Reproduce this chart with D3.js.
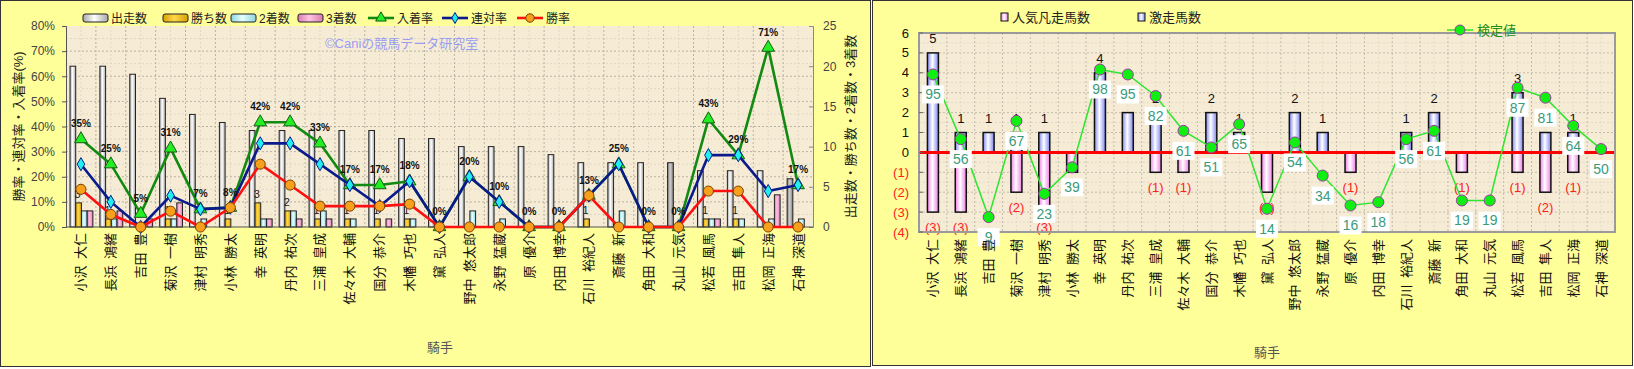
<!DOCTYPE html>
<html>
<head>
<meta charset="utf-8">
<script src="https://cdn.jsdelivr.net/npm/d3@7"></script>
<style>
  body { margin: 0; background: #fff; }
  svg text { font-family: 'Liberation Sans', 'Noto Sans CJK JP', sans-serif; }
</style>
</head>
<body>
<svg id="chart" width="1634" height="369"></svg>
<script>
// ---- data ----
const jockeys = ['小沢 大仁', '長浜 鴻緒', '吉田 豊', '菊沢 一樹', '津村 明秀', '小林 勝太', '幸 英明', '丹内 祐次',
  '三浦 皇成', '佐々木 大輔', '国分 恭介', '木幡 巧也', '黛 弘人', '野中 悠太郎', '永野 猛蔵', '原 優介',
  '内田 博幸', '石川 裕紀人', '斎藤 新', '角田 大和', '丸山 元気', '松若 風馬', '吉田 隼人', '松岡 正海', '石神 深道'];

const starts  = [20, 20, 19, 16, 14, 13, 12, 12, 12, 12, 12, 11, 11, 10, 10, 10, 9, 8, 8, 8, 8, 7, 7, 7, 6];
const wins    = [3, 1, 0, 1, 0, 1, 3, 2, 1, 1, 1, 1, 0, 0, 0, 0, 0, 1, 0, 0, 0, 1, 1, 0, 0];
const seconds = [2, 1, 0, 1, 1, 0, 1, 2, 2, 1, 0, 1, 0, 2, 1, 0, 0, 0, 2, 0, 0, 1, 1, 1, 1];
const thirds  = [2, 2, 1, 3, 0, 0, 1, 1, 1, 0, 1, 0, 0, 0, 0, 0, 0, 0, 0, 0, 0, 1, 0, 4, 0];

const winRate   = [15, 5, 0, 6.3, 0, 7.7, 25, 16.7, 8.3, 8.3, 8.3, 9.1, 0, 0, 0, 0, 0, 12.5, 0, 0, 0, 14.3, 14.3, 0, 0];
const placeRate = [25, 10, 0, 12.5, 7.1, 7.7, 33.3, 33.3, 25, 16.7, 8.3, 18.2, 0, 20, 10, 0, 0, 12.5, 25, 0, 0, 28.6, 28.6, 14.3, 16.7];
const showRate  = [35, 25, 5.3, 31.3, 7.1, 7.7, 41.7, 41.7, 33.3, 16.7, 16.7, 18.2, 0, 20, 10, 0, 0, 12.5, 25, 0, 0, 42.9, 28.6, 71.4, 16.7];

const pctTicks   = [0, 10, 20, 30, 40, 50, 60, 70, 80];
const countTicks = [0, 5, 10, 15, 20, 25];

const surge     = [5, 1, 1, 1, 1, 0, 4, 2, 2, 0, 2, 1, 0, 2, 1, 0, 0, 1, 2, 0, 0, 3, 1, 1, 0];
const flop      = [3, 3, 0, 2, 3, 1, 0, 0, 1, 1, 0, 0, 2, 0, 0, 1, 0, 0, 0, 1, 0, 1, 2, 1, 0];
const testValue = [95, 56, 9, 67, 23, 39, 98, 95, 82, 61, 51, 65, 14, 54, 34, 16, 18, 56, 61, 19, 19, 87, 81, 64, 50];
const rightTicks = [-4, -3, -2, -1, 0, 1, 2, 3, 4, 5, 6];

// darker shading used on two of the start bars
const shadedStarts = ['丸山 元気', '石神 深道'];

// keep the jockey index with each value so filtering keeps positions right
const withIndex = arr => arr.map((v, i) => ({ v, i }));

const svg = d3.select('#chart');
const defs = svg.append('defs');

function gradient(id, edge, mid) {
  const g = defs.append('linearGradient').attr('id', id)
    .attr('x1', 0).attr('x2', 1).attr('y1', 0).attr('y2', 0);
  g.append('stop').attr('offset', '0%').attr('stop-color', edge);
  g.append('stop').attr('offset', '45%').attr('stop-color', mid);
  g.append('stop').attr('offset', '100%').attr('stop-color', edge);
}
gradient('gStart', '#a8a8a8', '#ffffff');
gradient('gStartDark', '#808080', '#d0d0d0');
gradient('gWin', '#d8a000', '#ffd84a');
gradient('gSecond', '#8fd4de', '#e4ffff');
gradient('gThird', '#d77ab0', '#ffc4e2');
gradient('gSurge', '#7f86f0', '#ffffff');
gradient('gFlop', '#f07ee6', '#ffffff');

// panels
svg.append('rect').attr('x', 0.5).attr('y', 0.5).attr('width', 870).attr('height', 366)
  .attr('fill', '#ffff99').attr('stroke', '#333');
svg.append('rect').attr('x', 872.5).attr('y', 0.5).attr('width', 760).attr('height', 365)
  .attr('fill', '#ffff99').attr('stroke', '#333');

// ================= LEFT CHART =================
const L = { left: 66, right: 813, top: 26, bottom: 227 };
const x1 = d3.scaleBand().domain(jockeys).range([L.left, L.right]);
const bw = x1.bandwidth();
const sub = d3.scaleBand().domain(['starts', 'wins', 'seconds', 'thirds']).range([4, bw - 3]);
const yPct = d3.scaleLinear().domain([0, 80]).range([L.bottom, L.top]);
const yCnt = d3.scaleLinear().domain([0, 25]).range([L.bottom, L.top]);
const cx1 = i => x1(jockeys[i]) + bw / 2;

const left = svg.append('g');

left.append('rect')
  .attr('x', L.left).attr('y', L.top)
  .attr('width', L.right - L.left).attr('height', L.bottom - L.top)
  .attr('fill', '#f6ecd6');

// grid
left.append('g').selectAll('line').data(d3.range(5, 80, 5)).join('line')
  .attr('x1', L.left).attr('x2', L.right)
  .attr('y1', d => yPct(d)).attr('y2', d => yPct(d))
  .attr('stroke', d => d % 10 ? '#e0d6c4' : '#b9b1a2')
  .attr('stroke-dasharray', '2,2');
left.append('g').selectAll('line').data(jockeys).join('line')
  .attr('x1', d => x1(d) + bw / 2).attr('x2', d => x1(d) + bw / 2)
  .attr('y1', L.top).attr('y2', L.bottom)
  .attr('stroke', '#e0d6c4').attr('stroke-dasharray', '2,2');
left.append('g').selectAll('line').data(jockeys.slice(1)).join('line')
  .attr('x1', d => x1(d)).attr('x2', d => x1(d))
  .attr('y1', L.top).attr('y2', L.bottom)
  .attr('stroke', '#b9b1a2').attr('stroke-dasharray', '2,2');

// watermark
left.append('text')
  .text('©Caniの競馬データ研究室')
  .attr('x', 325).attr('y', 48)
  .attr('fill', '#9a9cf2')
  .style('font-size', '13px');

// bars
const barSeries = [
  { key: 'starts', values: starts, fill: d => shadedStarts.includes(jockeys[d.i]) ? 'url(#gStartDark)' : 'url(#gStart)' },
  { key: 'wins', values: wins, fill: () => 'url(#gWin)' },
  { key: 'seconds', values: seconds, fill: () => 'url(#gSecond)' },
  { key: 'thirds', values: thirds, fill: () => 'url(#gThird)' }
];
barSeries.forEach(s => {
  left.append('g').selectAll('rect').data(withIndex(s.values).filter(d => d.v > 0)).join('rect')
    .attr('x', d => x1(jockeys[d.i]) + sub(s.key))
    .attr('y', d => yCnt(d.v))
    .attr('width', sub.bandwidth())
    .attr('height', d => yCnt(0) - yCnt(d.v))
    .attr('fill', s.fill)
    .attr('stroke', '#222')
    .attr('stroke-width', 1);
});

// win count labels
left.append('g').selectAll('text').data(withIndex(wins).filter(d => d.v > 0)).join('text')
  .text(d => d.v)
  .attr('x', d => x1(jockeys[d.i]) + sub('wins') + sub.bandwidth() / 2 - 1)
  .attr('y', d => yCnt(d.v) - 5)
  .attr('text-anchor', 'middle')
  .attr('fill', '#222')
  .style('font-size', '11px');

// axes
left.append('g')
  .attr('transform', `translate(${L.left},0)`)
  .call(d3.axisLeft(yPct).tickValues(pctTicks).tickFormat(d => d + '%').tickSize(4).tickPadding(7))
  .call(g => g.selectAll('text').attr('fill', '#444').style('font-size', '12px'))
  .call(g => g.selectAll('line, path').attr('stroke', '#555'));

left.append('g')
  .attr('transform', `translate(${L.right},0)`)
  .call(d3.axisRight(yCnt).tickValues(countTicks).tickSize(-4).tickPadding(10))
  .call(g => g.selectAll('text').attr('fill', '#444').style('font-size', '12px'))
  .call(g => g.selectAll('line, path').attr('stroke', '#888'));

left.append('line')
  .attr('x1', L.left).attr('x2', L.right).attr('y1', L.bottom).attr('y2', L.bottom)
  .attr('stroke', '#555');

// rate lines
const lineSeries = [
  { values: showRate, color: '#128a12', symbol: d3.symbolTriangle, size: 70, fill: '#22ee22', stroke: '#1a5a1a' },
  { values: placeRate, color: '#0a1a8c', symbol: d3.symbolDiamond, size: 50, fill: '#22eeee', stroke: '#0a1a8c' },
  { values: winRate, color: '#ff1010', symbol: d3.symbolCircle, size: 80, fill: '#f7a01c', stroke: '#7a4000' }
];
lineSeries.forEach(s => {
  const lineGen = d3.line().x((d, i) => cx1(i)).y(d => yPct(d));
  left.append('path')
    .attr('d', lineGen(s.values))
    .attr('fill', 'none')
    .attr('stroke', s.color)
    .attr('stroke-width', 2.6)
    .attr('stroke-linejoin', 'round');
  left.append('g').selectAll('path').data(s.values).join('path')
    .attr('d', d3.symbol().type(s.symbol).size(s.size))
    .attr('transform', (d, i) => `translate(${cx1(i)},${yPct(d)})`)
    .attr('fill', s.fill)
    .attr('stroke', s.stroke)
    .attr('stroke-width', 1);
});

// show rate labels
left.append('g').selectAll('text').data(showRate).join('text')
  .text(d => d3.format('.0f')(d) + '%')
  .attr('x', (d, i) => cx1(i))
  .attr('y', d => yPct(d) - 12)
  .attr('text-anchor', 'middle')
  .attr('fill', '#111')
  .style('font-size', '10px')
  .style('font-weight', 'bold');

// category labels
left.append('g').selectAll('text').data(jockeys).join('text')
  .text(d => d.replace(' ', '\u2002'))
  .attr('transform', d => `translate(${x1(d) + bw / 2},233) rotate(-90)`)
  .attr('text-anchor', 'end')
  .attr('dominant-baseline', 'central')
  .attr('fill', '#111')
  .style('font-size', '13px');

// axis titles
left.append('text')
  .text('勝率・連対率・入着率(%)')
  .attr('transform', `translate(18,${(L.top + L.bottom) / 2}) rotate(-90)`)
  .attr('text-anchor', 'middle')
  .attr('dominant-baseline', 'central')
  .attr('fill', '#222')
  .style('font-size', '13px');

left.append('text')
  .text('出走数・勝ち数・2着数・3着数')
  .attr('transform', `translate(850,${(L.top + L.bottom) / 2}) rotate(-90)`)
  .attr('text-anchor', 'middle')
  .attr('dominant-baseline', 'central')
  .attr('fill', '#222')
  .style('font-size', '13px');

left.append('text')
  .text('騎手')
  .attr('x', 440).attr('y', 352)
  .attr('text-anchor', 'middle')
  .attr('fill', '#555')
  .style('font-size', '13px');

// legend
const legendBars = [
  { label: '出走数', fill: 'url(#gStart)', x: 83 },
  { label: '勝ち数', fill: 'url(#gWin)', x: 163 },
  { label: '2着数', fill: 'url(#gSecond)', x: 231 },
  { label: '3着数', fill: 'url(#gThird)', x: 298 }
];
const legBar = left.append('g');
legendBars.forEach(d => {
  legBar.append('rect')
    .attr('x', d.x).attr('y', 14).attr('width', 25).attr('height', 8).attr('rx', 2)
    .attr('fill', d.fill).attr('stroke', '#222');
  legBar.append('text')
    .text(d.label)
    .attr('x', d.x + 28).attr('y', 23)
    .attr('fill', '#222')
    .style('font-size', '12px');
});
const legendLines = [
  { label: '入着率', s: lineSeries[0], x: 368 },
  { label: '連対率', s: lineSeries[1], x: 442 },
  { label: '勝率', s: lineSeries[2], x: 517 }
];
legendLines.forEach(d => {
  legBar.append('line')
    .attr('x1', d.x).attr('x2', d.x + 26).attr('y1', 18).attr('y2', 18)
    .attr('stroke', d.s.color).attr('stroke-width', 2.6);
  legBar.append('path')
    .attr('d', d3.symbol().type(d.s.symbol).size(d.s.size * 0.7))
    .attr('transform', `translate(${d.x + 13},18)`)
    .attr('fill', d.s.fill).attr('stroke', d.s.stroke);
  legBar.append('text')
    .text(d.label)
    .attr('x', d.x + 29).attr('y', 23)
    .attr('fill', '#222')
    .style('font-size', '12px');
});

// ================= RIGHT CHART =================
const R = { left: 919, right: 1615, top: 33, bottom: 232 };
const x2 = d3.scaleBand().domain(jockeys).range([R.left, R.right]);
const bw2 = x2.bandwidth();
const yR = d3.scaleLinear().domain([-4, 6]).range([R.bottom, R.top]);
const yTest = d3.scaleLinear().domain([0, 120]).range([R.bottom, R.top]);
const cx2 = i => x2(jockeys[i]) + bw2 / 2;

const right = svg.append('g');

right.append('rect')
  .attr('x', R.left).attr('y', R.top)
  .attr('width', R.right - R.left).attr('height', R.bottom - R.top)
  .attr('fill', '#f6ecd6');

right.append('g').selectAll('line').data(d3.range(-3.5, 6, 0.5)).join('line')
  .attr('x1', R.left).attr('x2', R.right)
  .attr('y1', d => yR(d)).attr('y2', d => yR(d))
  .attr('stroke', d => d % 1 ? '#e2d9c8' : '#c4bcad')
  .attr('stroke-dasharray', '2,2');
right.append('g').selectAll('line').data(jockeys).join('line')
  .attr('x1', d => x2(d) + bw2 / 2).attr('x2', d => x2(d) + bw2 / 2)
  .attr('y1', R.top).attr('y2', R.bottom)
  .attr('stroke', '#e2d9c8').attr('stroke-dasharray', '2,2');
right.append('g').selectAll('line').data(jockeys.slice(1)).join('line')
  .attr('x1', d => x2(d)).attr('x2', d => x2(d))
  .attr('y1', R.top).attr('y2', R.bottom)
  .attr('stroke', '#c4bcad').attr('stroke-dasharray', '2,2');

// bars
const barW = 11;
right.append('g').selectAll('rect').data(withIndex(surge).filter(d => d.v > 0)).join('rect')
  .attr('x', d => cx2(d.i) - barW / 2)
  .attr('y', d => yR(d.v))
  .attr('width', barW)
  .attr('height', d => yR(0) - yR(d.v))
  .attr('fill', 'url(#gSurge)')
  .attr('stroke', '#111').attr('stroke-width', 1.5);
right.append('g').selectAll('rect').data(withIndex(flop).filter(d => d.v > 0)).join('rect')
  .attr('x', d => cx2(d.i) - barW / 2)
  .attr('y', yR(0))
  .attr('width', barW)
  .attr('height', d => yR(-d.v) - yR(0))
  .attr('fill', 'url(#gFlop)')
  .attr('stroke', '#111').attr('stroke-width', 1.5);

// bar labels
right.append('g').selectAll('text').data(withIndex(surge).filter(d => d.v > 0)).join('text')
  .text(d => d.v)
  .attr('x', d => cx2(d.i))
  .attr('y', d => yR(d.v) - 14)
  .attr('text-anchor', 'middle').attr('dominant-baseline', 'central')
  .attr('fill', '#111')
  .style('font-size', '13px');
right.append('g').selectAll('text').data(withIndex(flop).filter(d => d.v > 0)).join('text')
  .text(d => `(${d.v})`)
  .attr('x', d => cx2(d.i))
  .attr('y', d => yR(-d.v) + 15)
  .attr('text-anchor', 'middle').attr('dominant-baseline', 'central')
  .attr('fill', '#ff2020')
  .style('font-size', '13px');

// zero line
right.append('line')
  .attr('x1', R.left).attr('x2', R.right)
  .attr('y1', yR(0)).attr('y2', yR(0))
  .attr('stroke', '#ff0000').attr('stroke-width', 3);

// frame
right.append('rect')
  .attr('x', R.left).attr('y', R.top)
  .attr('width', R.right - R.left).attr('height', R.bottom - R.top)
  .attr('fill', 'none').attr('stroke', '#9a9a9a').attr('stroke-width', 2);

// y axis
right.append('g').selectAll('line').data(rightTicks).join('line')
  .attr('x1', R.left).attr('x2', R.left + 4)
  .attr('y1', d => yR(d)).attr('y2', d => yR(d))
  .attr('stroke', '#666');
right.append('g').selectAll('text').data(rightTicks).join('text')
  .text(d => d < 0 ? `(${-d})` : d)
  .attr('x', 909)
  .attr('y', d => yR(d))
  .attr('text-anchor', 'end').attr('dominant-baseline', 'central')
  .attr('fill', d => d < 0 ? '#ff2020' : '#111')
  .style('font-size', '13px');

// test value line
const testLine = d3.line().x((d, i) => cx2(i)).y(d => yTest(d));
right.append('path')
  .attr('d', testLine(testValue))
  .attr('fill', 'none')
  .attr('stroke', '#2ee62e')
  .attr('stroke-width', 1.5);
right.append('g').selectAll('circle').data(testValue).join('circle')
  .attr('cx', (d, i) => cx2(i))
  .attr('cy', d => yTest(d))
  .attr('r', 5.5)
  .attr('fill', '#11ee11')
  .attr('stroke', '#9b3aa0').attr('stroke-width', 1);

const testLabels = right.append('g').selectAll('g').data(testValue).join('g')
  .attr('transform', (d, i) => `translate(${cx2(i)},${yTest(d) + 20})`);
testLabels.append('rect')
  .attr('x', -11).attr('y', -9).attr('width', 22).attr('height', 18)
  .attr('fill', '#fff');
testLabels.append('text')
  .text(d => d)
  .attr('text-anchor', 'middle').attr('dominant-baseline', 'central')
  .attr('fill', '#3a9a7a')
  .style('font-size', '14px');

// category labels
right.append('g').selectAll('text').data(jockeys).join('text')
  .text(d => d.replace(' ', '\u2002'))
  .attr('transform', d => `translate(${x2(d) + bw2 / 2},239) rotate(-90)`)
  .attr('text-anchor', 'end')
  .attr('dominant-baseline', 'central')
  .attr('fill', '#111')
  .style('font-size', '13px');

right.append('text')
  .text('騎手')
  .attr('x', 1267).attr('y', 357)
  .attr('text-anchor', 'middle')
  .attr('fill', '#555')
  .style('font-size', '13px');

// legend
[{ label: '人気凡走馬数', fill: 'url(#gFlop)', x: 1001 }, { label: '激走馬数', fill: 'url(#gSurge)', x: 1138 }]
  .forEach(d => {
    right.append('rect')
      .attr('x', d.x).attr('y', 13).attr('width', 7).attr('height', 8)
      .attr('fill', d.fill).attr('stroke', '#111');
    right.append('text')
      .text(d.label)
      .attr('x', d.x + 11).attr('y', 22)
      .attr('fill', '#222')
      .style('font-size', '13px');
  });
right.append('line')
  .attr('x1', 1447).attr('x2', 1473).attr('y1', 30).attr('y2', 30)
  .attr('stroke', '#2ee62e').attr('stroke-width', 1.5);
right.append('circle')
  .attr('cx', 1460).attr('cy', 30).attr('r', 5)
  .attr('fill', '#11ee11').attr('stroke', '#9b3aa0');
right.append('text')
  .text('検定値')
  .attr('x', 1477).attr('y', 35)
  .attr('fill', '#1e8a1e')
  .style('font-size', '13px');
</script>
</body>
</html>
